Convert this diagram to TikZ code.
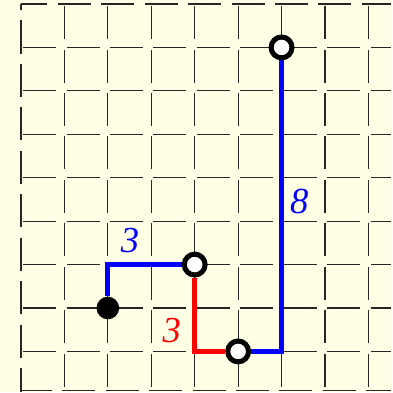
\documentclass[tikz,border=0pt]{standalone}
\usepackage{fontspec}
\setmainfont{Liberation Serif}
\usetikzlibrary{backgrounds}
\definecolor{paper}{RGB}{255,255,230}
\begin{document}
\begin{tikzpicture}[
    grid/.style={black!85, line width=0.8pt, dash pattern=on 0.76cm off 0.24cm, dash phase=0.95cm},
    hole/.style={draw, circle, line width=3.3pt, fill=white, inner sep=0pt, minimum size=0.48cm},
    lab/.style={inner sep=0pt, font=\fontsize{24}{28}\selectfont\itshape}]
    % punkte
    \node[circle, fill, inner sep=0pt, minimum size=0.52cm] (start) at (2,1) {};
    \node[hole] (p1) at (4,2) {};
    \node[hole] (p2) at (5,0) {};
    \node[hole] (p3) at (6,7) {};

    % zahlen
    \node[lab, blue] (l1) at (2.51,2.55) {3};
    \node[lab, red] (l2) at (3.47,0.48) {3};
    \node[lab, blue] (l3) at (6.41,3.45) {8};

    \begin{scope}[on background layer]
        \fill[paper] (-0.483,-0.943) rectangle (8.529,8.092);
        % gitter
        \foreach \i in {1,...,8}
            \draw[grid] (\i,8) -- (\i,-0.943);
        \foreach \j in {0,...,7}
            \draw[grid] (0,\j) -- (8.529,\j);
        \draw[grid, dash phase=0.15cm] (0,8) -- (8.529,8);
        \draw[grid, dash phase=0.62cm] (0,8) -- (0,-0.943);
        \draw[grid, dash phase=0.05cm] (0,-0.897) -- (8.529,-0.897);

        % wege
        \draw[blue, line width=3.3pt] (start) |- (p1);
        \draw[red, line width=3.3pt] (p1) |- (p2);
        \draw[blue, line width=3.3pt] (p2) -| (p3);
    \end{scope}
    \useasboundingbox (-0.483,-0.943) rectangle (8.529,8.092);
\end{tikzpicture}
\end{document}
